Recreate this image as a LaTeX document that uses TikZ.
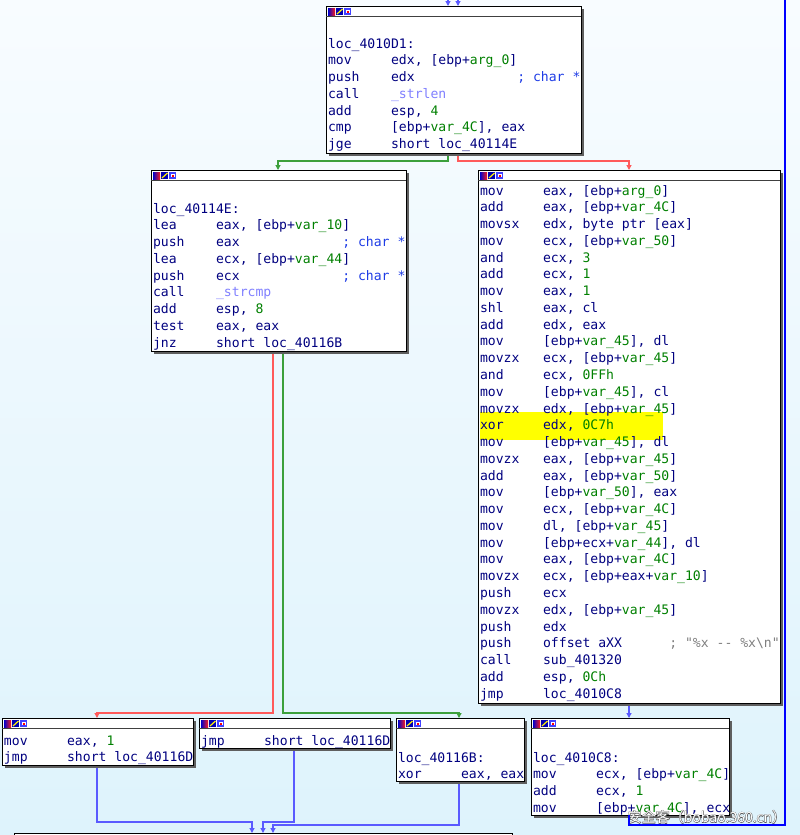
\documentclass[tikz,border=0pt]{standalone}
\usepackage{fontspec}
\newfontfamily\codefont{DejaVu Sans Mono}
\newfontfamily\cjkfont{Noto Sans CJK SC}
\usetikzlibrary{arrows.meta}
\definecolor{navy}{RGB}{0,0,128}
\definecolor{idagreen}{RGB}{0,128,0}
\definecolor{idacmt}{RGB}{30,60,230}
\definecolor{idafunc}{RGB}{128,128,255}
\definecolor{idagray}{RGB}{128,128,128}
\definecolor{edgered}{RGB}{255,90,90}
\definecolor{edgegreen}{RGB}{60,160,60}
\definecolor{edgeblue}{RGB}{90,90,255}
\definecolor{hiblue}{RGB}{0,0,255}
\definecolor{bgtop}{RGB}{248,252,255}
\definecolor{bgbot}{RGB}{222,243,252}
\definecolor{hlyellow}{RGB}{255,255,0}
\definecolor{shadowgray}{RGB}{95,95,95}
\newcommand\vgreen[1]{\textcolor{idagreen}{#1}}
\newcommand\vcmt[1]{\textcolor{idacmt}{#1}}
\newcommand\vfunc[1]{\textcolor{idafunc}{#1}}
\newcommand\vgray[1]{\textcolor{idagray}{#1}}
\newcounter{lnc}
\def\rowh{16.77}
\newcommand\asmline[5]{\stepcounter{lnc}%
  \node[code] (ln\arabic{lnc}) at (#1,{#2+5}) {\makebox[63.1pt][l]{#3}\makebox[126.2pt][l]{#4}#5};}
\newcommand\idaicons[2]{%
  \shade[left color=blue!80!black, middle color=green!70!black, right color=red!90] (#1+2,#2+2) rectangle (#1+9,#2+9);
  \fill[blue!70!black] (#1+10,#2+2) rectangle (#1+17,#2+9);
  \draw[yellow, line width=1.2pt] (#1+11,#2+8) -- (#1+16.5,#2+3);
  \fill[blue!75] (#1+18,#2+2) rectangle (#1+25,#2+9);
  \fill[white] (#1+19.5,#2+3.5) rectangle (#1+23.5,#2+7);
  \fill[red] (#1+20.5,#2+5) rectangle (#1+22.5,#2+6.5);}
\newcommand\idabox[5]{%
  \fill[shadowgray] (#2+3,#3+3) rectangle (#4+3,#5+3);
  \node[box, minimum width=#4-#2, minimum height=#5-#3] (#1) at (#2,#3) {};
  \draw[line width=0.8pt, draw=black!75] (#2,#3+10.5) -- (#4,#3+10.5);
  \idaicons{#2}{#3}}
\begin{document}
\begin{tikzpicture}[x=1pt,y=-1pt,
  box/.style={draw=black, line width=0.8pt, fill=white, inner sep=0pt, outer sep=0pt, anchor=north west},
  code/.style={anchor=base west, inner sep=0pt, outer sep=0pt, font=\codefont\fontsize{13.1}{16.77}\selectfont, text=navy},
  edgebase/.style={line width=1.1pt, -{Triangle[length=5pt,width=5pt]}},
  eg/.style={edgebase, draw=edgegreen},
  er/.style={edgebase, draw=edgered},
  eb/.style={edgebase, draw=edgeblue},
  backedge/.style={line width=2.2pt, draw=hiblue},
  wmark/.style={font=\cjkfont\fontsize{14}{14}\selectfont, inner sep=0pt}]
\useasboundingbox (0,0) rectangle (800,835);
\fill[bgbot!45!bgtop] (0,0) rectangle (800,835);
\shade[top color=bgtop, bottom color=bgbot] (0,0) rectangle (800,835);

% box placeholders (named nodes used by the connectors)
\node[box, draw=none, fill=none, minimum width=255, minimum height=147] (b1) at (326,6) {};
\node[box, draw=none, fill=none, minimum width=255, minimum height=181] (b2) at (151,170) {};
\node[box, draw=none, fill=none, minimum width=302, minimum height=533] (b3) at (478,170) {};
\node[box, draw=none, fill=none, minimum width=191, minimum height=47] (b4) at (2,718) {};
\node[box, draw=none, fill=none, minimum width=191, minimum height=30] (b5) at (199,718) {};
\node[box, draw=none, fill=none, minimum width=128, minimum height=63] (b6) at (396,718) {};
\node[box, draw=none, fill=none, minimum width=198, minimum height=97] (b7) at (531,718) {};
\node[box, draw=none, fill=none, minimum width=498, minimum height=67] (b8) at (14,833) {};

% edges
\coordinate (in1) at (448,0);
\coordinate (in2) at (458,0);
\coordinate (loopcorner) at (785,825);
\coordinate (loopend) at (785,0);
\draw[eb] (in1) -- ([xshift=122pt]b1.north west);
\draw[eb] (in2) -- ([xshift=132pt]b1.north west);
\draw[eg] ([xshift=122pt]b1.south west) -- ++(0,8) -| ([xshift=127pt]b2.north west);
\draw[er] ([xshift=132pt]b1.south west) -- ++(0,8) -| ([xshift=151pt]b3.north west);
\draw[er] ([xshift=122pt]b2.south west) -- ++(0,362) -| ([xshift=95pt]b4.north west);
\draw[eg] ([xshift=132pt]b2.south west) -- ++(0,362) -| ([xshift=63pt]b6.north west);
\draw[eb] ([xshift=151pt]b3.south west) -- ([xshift=98pt]b7.north west);
\draw[eb] ([xshift=95pt]b4.south west) -- ++(0,57) -| ([xshift=238pt]b8.north west);
\draw[eb] ([xshift=95pt]b5.south west) -- ++(0,74) -| ([xshift=249pt]b8.north west);
\draw[eb] ([xshift=63pt]b6.south west) -- ++(0,44) -| ([xshift=259pt]b8.north west);

% visible boxes
\idabox{bx1}{326}{6}{581}{153}
\idabox{bx2}{151}{170}{406}{351}
\idabox{bx3}{478}{170}{780}{703}
\idabox{bx4}{2}{718}{193}{765}
\idabox{bx5}{199}{718}{390}{748}
\idabox{bx6}{396}{718}{524}{781}
\idabox{bx7}{531}{718}{729}{815}
\idabox{bx8}{14}{833}{512}{900}

\fill[hlyellow] (480,412) rectangle (663,440);

% box 1
\asmline{328}{43}{loc\_4010D1:}{}{}
\asmline{328}{43+1*\rowh}{mov}{edx, [ebp+\vgreen{arg\_0}]}{}
\asmline{328}{43+2*\rowh}{push}{edx}{\vcmt{; char *}}
\asmline{328}{43+3*\rowh}{call}{\vfunc{\_strlen}}{}
\asmline{328}{43+4*\rowh}{add}{esp, \vgreen{4}}{}
\asmline{328}{43+5*\rowh}{cmp}{[ebp+\vgreen{var\_4C}], eax}{}
\asmline{328}{43+6*\rowh}{jge}{short loc\_40114E}{}

% box 2
\asmline{153}{208}{loc\_40114E:}{}{}
\asmline{153}{208+1*\rowh}{lea}{eax, [ebp+\vgreen{var\_10}]}{}
\asmline{153}{208+2*\rowh}{push}{eax}{\vcmt{; char *}}
\asmline{153}{208+3*\rowh}{lea}{ecx, [ebp+\vgreen{var\_44}]}{}
\asmline{153}{208+4*\rowh}{push}{ecx}{\vcmt{; char *}}
\asmline{153}{208+5*\rowh}{call}{\vfunc{\_strcmp}}{}
\asmline{153}{208+6*\rowh}{add}{esp, \vgreen{8}}{}
\asmline{153}{208+7*\rowh}{test}{eax, eax}{}
\asmline{153}{208+8*\rowh}{jnz}{short loc\_40116B}{}

% box 3
\asmline{480}{190+0*\rowh}{mov}{eax, [ebp+\vgreen{arg\_0}]}{}
\asmline{480}{190+1*\rowh}{add}{eax, [ebp+\vgreen{var\_4C}]}{}
\asmline{480}{190+2*\rowh}{movsx}{edx, byte ptr [eax]}{}
\asmline{480}{190+3*\rowh}{mov}{ecx, [ebp+\vgreen{var\_50}]}{}
\asmline{480}{190+4*\rowh}{and}{ecx, \vgreen{3}}{}
\asmline{480}{190+5*\rowh}{add}{ecx, \vgreen{1}}{}
\asmline{480}{190+6*\rowh}{mov}{eax, \vgreen{1}}{}
\asmline{480}{190+7*\rowh}{shl}{eax, cl}{}
\asmline{480}{190+8*\rowh}{add}{edx, eax}{}
\asmline{480}{190+9*\rowh}{mov}{[ebp+\vgreen{var\_45}], dl}{}
\asmline{480}{190+10*\rowh}{movzx}{ecx, [ebp+\vgreen{var\_45}]}{}
\asmline{480}{190+11*\rowh}{and}{ecx, \vgreen{0FFh}}{}
\asmline{480}{190+12*\rowh}{mov}{[ebp+\vgreen{var\_45}], cl}{}
\asmline{480}{190+13*\rowh}{movzx}{edx, [ebp+\vgreen{var\_45}]}{}
\asmline{480}{190+14*\rowh}{xor}{edx, \vgreen{0C7h}}{}
\asmline{480}{190+15*\rowh}{mov}{[ebp+\vgreen{var\_45}], dl}{}
\asmline{480}{190+16*\rowh}{movzx}{eax, [ebp+\vgreen{var\_45}]}{}
\asmline{480}{190+17*\rowh}{add}{eax, [ebp+\vgreen{var\_50}]}{}
\asmline{480}{190+18*\rowh}{mov}{[ebp+\vgreen{var\_50}], eax}{}
\asmline{480}{190+19*\rowh}{mov}{ecx, [ebp+\vgreen{var\_4C}]}{}
\asmline{480}{190+20*\rowh}{mov}{dl, [ebp+\vgreen{var\_45}]}{}
\asmline{480}{190+21*\rowh}{mov}{[ebp+ecx+\vgreen{var\_44}], dl}{}
\asmline{480}{190+22*\rowh}{mov}{eax, [ebp+\vgreen{var\_4C}]}{}
\asmline{480}{190+23*\rowh}{movzx}{ecx, [ebp+eax+\vgreen{var\_10}]}{}
\asmline{480}{190+24*\rowh}{push}{ecx}{}
\asmline{480}{190+25*\rowh}{movzx}{edx, [ebp+\vgreen{var\_45}]}{}
\asmline{480}{190+26*\rowh}{push}{edx}{}
\asmline{480}{190+27*\rowh}{push}{offset aXX}{\vgray{; "\%x -- \%x\textbackslash n"}}
\asmline{480}{190+28*\rowh}{call}{sub\_401320}{}
\asmline{480}{190+29*\rowh}{add}{esp, \vgreen{0Ch}}{}
\asmline{480}{190+30*\rowh}{jmp}{loc\_4010C8}{}

% box 4
\asmline{4}{740}{mov}{eax, \vgreen{1}}{}
\asmline{4}{740+\rowh}{jmp}{short loc\_40116D}{}
% box 5
\asmline{201}{740}{jmp}{short loc\_40116D}{}
% box 6
\asmline{398}{757}{loc\_40116B:}{}{}
\asmline{398}{757+\rowh}{xor}{eax, eax}{}
% box 7
\asmline{533}{757}{loc\_4010C8:}{}{}
\asmline{533}{757+1*\rowh}{mov}{ecx, [ebp+\vgreen{var\_4C}]}{}
\asmline{533}{757+2*\rowh}{add}{ecx, \vgreen{1}}{}
\asmline{533}{757+3*\rowh}{mov}{[ebp+\vgreen{var\_4C}], ecx}{}

% watermark: white text with a thin dark outline
\node[wmark, text=white, draw=none] (wm) at (707,817)
  {\special{pdf:literal direct 1 Tr 0.35 0.35 0.35 RG 0.9 w}安全客（bobao.360.cn）\special{pdf:literal direct 0 Tr}};
\node[wmark, text=white] (wm2) at (707,817) {安全客（bobao.360.cn）};

% highlighted back edge of the loop, from loc_4010C8 up to loc_4010D1
\draw[backedge] ([xshift=98pt]b7.south west) -- ([xshift=98pt]b7.south west |- loopcorner) -- (loopcorner) -- (loopend);
\end{tikzpicture}
\end{document}
